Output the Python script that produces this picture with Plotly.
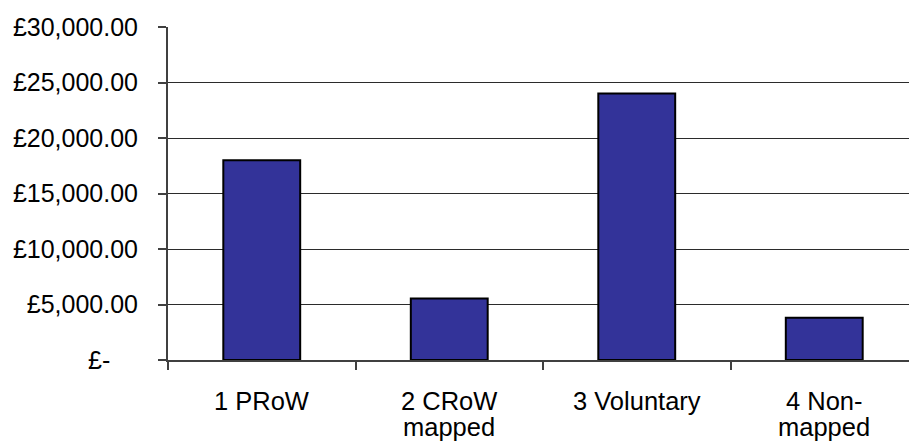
import plotly.graph_objects as go

# Spending by access category
categories = ["1 PRoW", "2 CRoW mapped", "3 Voluntary", "4 Non-mapped"]
label_lines = [["1 PRoW"], ["2 CRoW", "mapped"], ["3 Voluntary"], ["4 Non-", "mapped"]]
amounts = [18000, 5550, 24000, 3800]

y_tick_values = [0, 5000, 10000, 15000, 20000, 25000, 30000]
y_tick_labels = ["£-\u00a0\u00a0\u00a0\u00a0", "£5,000.00", "£10,000.00", "£15,000.00",
                 "£20,000.00", "£25,000.00", "£30,000.00"]

FONT = "Liberation Sans, Arial, sans-serif"
AXIS_COLOR = "#404040"

x_pos = list(range(len(categories)))

fig = go.Figure(
    go.Bar(
        x=x_pos,
        y=amounts,
        width=0.41,
        marker=dict(color="#333399", line=dict(color="#000000", width=2)),
        hovertext=categories,
    )
)

# Category labels, one line per annotation for tight line spacing
annotations = []
for i, lines in enumerate(label_lines):
    for j, line in enumerate(lines):
        annotations.append(dict(
            x=i, xref="x", y=0, yref="paper",
            yanchor="top", xanchor="center",
            yshift=-25 - 26 * j,
            text=line, showarrow=False,
            font=dict(family=FONT, size=25.5, color="#000000"),
        ))

fig.update_layout(
    width=909,
    height=446,
    margin=dict(l=168, r=0, t=27, b=86),
    paper_bgcolor="#ffffff",
    plot_bgcolor="#ffffff",
    showlegend=False,
    annotations=annotations,
    font=dict(family=FONT, color="#000000"),
    xaxis=dict(
        type="linear",
        range=[-0.5, 3.452],
        tickvals=[-0.5, 0.5, 1.5, 2.5, 3.5],
        ticktext=["", "", "", "", ""],
        ticks="outside",
        ticklen=8,
        tickwidth=1.5,
        tickcolor=AXIS_COLOR,
        showgrid=False,
        zeroline=False,
        showline=True,
        linecolor=AXIS_COLOR,
        linewidth=2,
        fixedrange=True,
    ),
    yaxis=dict(
        range=[0, 30000],
        tickvals=y_tick_values,
        ticktext=y_tick_labels,
        ticks="outside",
        ticklen=8,
        tickwidth=1.5,
        tickcolor=AXIS_COLOR,
        ticklabelstandoff=15,
        tickfont=dict(family=FONT, size=25, color="#000000"),
        showgrid=True,
        gridcolor="#2b2b2b",
        gridwidth=1,
        zeroline=False,
        showline=True,
        linecolor=AXIS_COLOR,
        linewidth=2,
        fixedrange=True,
    ),
)

fig.write_html("out.html")
